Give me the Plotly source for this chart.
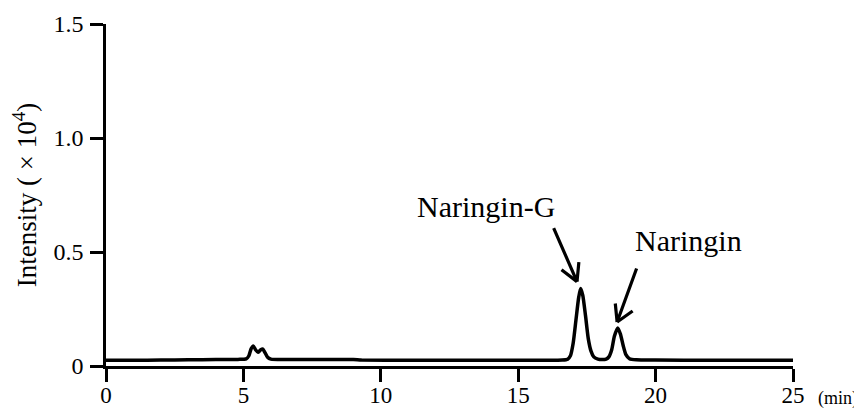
import plotly.graph_objects as go

# Chromatogram (time in min, intensity x 10^4)
time_min = [0.0, 1.0, 2.0, 3.0, 4.0, 4.8, 5.1, 5.2, 5.28, 5.36, 5.45, 5.53, 5.62, 5.7, 5.78, 5.88, 6.0,
            7.0, 8.0, 9.0, 9.3, 11.0, 13.0, 15.0, 16.0, 16.6, 16.8, 16.9, 17.0, 17.1, 17.2, 17.27,
            17.35, 17.45, 17.55, 17.65, 17.75, 17.9, 18.05, 18.2, 18.3, 18.4, 18.5, 18.62, 18.72,
            18.82, 18.92, 19.05, 19.3, 20.0, 22.0, 24.0, 25.0]
intensity = [0.025, 0.025, 0.026, 0.027, 0.028, 0.029, 0.031, 0.045, 0.075, 0.088, 0.070, 0.060, 0.070, 0.075,
             0.060, 0.038, 0.030, 0.029, 0.028, 0.028, 0.026, 0.025, 0.025, 0.025, 0.025, 0.026, 0.030,
             0.045, 0.100, 0.200, 0.300, 0.340, 0.310, 0.220, 0.120, 0.065, 0.040, 0.030, 0.028, 0.030,
             0.040, 0.070, 0.130, 0.167, 0.140, 0.090, 0.050, 0.032, 0.027, 0.026, 0.025, 0.025, 0.025]

x_ticks = [0, 5, 10, 15, 20, 25]
x_tick_text = ["0", "5", "10", "15", "20", "25"]
y_ticks = [0, 0.5, 1.0, 1.5]
y_tick_text = ["0", "0.5", "1.0", "1.5"]

peak_names = ["Naringin-G", "Naringin"]
peak_tip_x = [17.14, 18.6]
peak_tip_y = [0.37, 0.193]
label_x = [13.83, 21.18]
label_y = [0.70, 0.55]

# arrow geometry in pixel offsets from the tip: shaft tail, left arm end, right arm end
arrow_shaft = [(-24, -55), (20, -55)]
arrow_arm_a = [(-17, -13), (-2, -20)]
arrow_arm_b = [(2, -21), (17, -12)]

FONT = "Liberation Serif"

fig = go.Figure()
fig.add_trace(go.Scatter(x=time_min, y=intensity, mode="lines",
                         line=dict(color="black", width=3.5, shape="spline", smoothing=0.6),
                         showlegend=False, hoverinfo="skip"))

for i, name in enumerate(peak_names):
    for (ax, ay) in (arrow_shaft[i], arrow_arm_a[i], arrow_arm_b[i]):
        fig.add_annotation(x=peak_tip_x[i], y=peak_tip_y[i], ax=ax, ay=ay, text="", showarrow=True,
                           arrowhead=0, arrowwidth=3.2, arrowcolor="black", standoff=0)
    fig.add_annotation(x=label_x[i], y=label_y[i], text=name, showarrow=False,
                       font=dict(family=FONT, size=30, color="black"),
                       xanchor="center", yanchor="middle")

fig.add_annotation(x=1.0655, y=-0.094, xref="paper", yref="paper", text="(min)", showarrow=False,
                   font=dict(family=FONT, size=18, color="black"), xanchor="center", yanchor="middle")

fig.update_xaxes(range=[0, 25], tickvals=x_ticks, ticktext=x_tick_text,
                 showline=True, linecolor="black", linewidth=2.5,
                 ticks="outside", ticklen=13, tickwidth=2.5, tickcolor="black",
                 showgrid=False, zeroline=False, automargin=False, ticklabelstandoff=-6,
                 tickfont=dict(family=FONT, size=23, color="black"))
fig.update_yaxes(range=[0, 1.5], tickvals=y_ticks, ticktext=y_tick_text,
                 showline=True, linecolor="black", linewidth=2.5,
                 ticks="outside", ticklen=13, tickwidth=2.5, tickcolor="black",
                 showgrid=False, zeroline=False, automargin=False, ticklabelstandoff=2,
                 tickfont=dict(family=FONT, size=24, color="black"),
                 title=dict(text="Intensity ( × 10<sup>4</sup>)", font=dict(family=FONT, size=27, color="black"),
                            standoff=10))

fig.update_layout(width=854, height=402, margin=dict(l=98, r=69, t=16, b=44),
                  plot_bgcolor="white", paper_bgcolor="white")

fig.write_html("out.html")
